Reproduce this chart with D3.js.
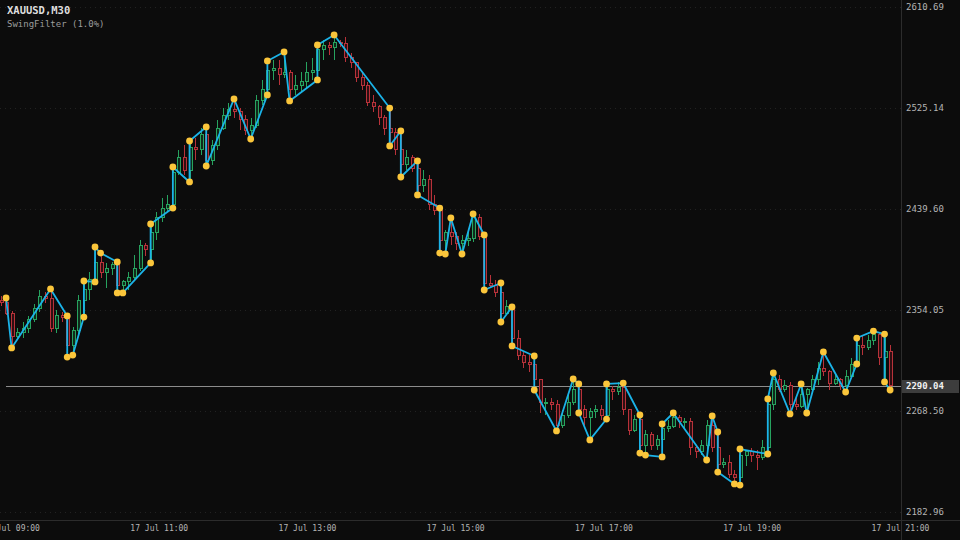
<!DOCTYPE html>
<html><head><meta charset="utf-8">
<script src="https://cdn.jsdelivr.net/npm/d3@7"></script>
<style>html,body{margin:0;padding:0;background:#0c0c0c;overflow:hidden}</style>
</head><body><svg id="c" width="960" height="540"></svg>
<script>
const opens=[2362.5,2360.0,2351.5,2332.0,2335.4,2338.8,2345.6,2355.7,2365.9,2364.2,
2338.8,2349.8,2347.3,2324.4,2337.1,2362.5,2371.0,2379.5,2394.7,2385.4,
2389.6,2392.2,2375.2,2377.8,2381.2,2389.6,2409.1,2404.9,2420.1,2432.0,
2440.4,2443.0,2470.9,2482.8,2472.6,2491.3,2489.6,2502.3,2481.1,2493.8,
2508.2,2519.2,2523.5,2521.8,2515.0,2506.5,2510.7,2531.9,2540.4,2557.3,
2559.0,2553.1,2555.6,2540.4,2544.6,2547.2,2554.8,2557.3,2574.3,2578.5,
2576.0,2580.2,2579.4,2567.5,2563.3,2551.4,2544.6,2530.2,2526.0,2516.7,
2508.2,2504.8,2489.6,2476.9,2482.8,2474.3,2459.9,2464.2,2443.0,2438.0,
2413.3,2420.1,2415.9,2410.8,2413.3,2415.0,2432.0,2416.7,2376.9,2375.2,
2368.5,2351.5,2356.6,2330.3,2315.9,2310.0,2307.5,2294.8,2275.3,2276.1,
2273.6,2256.6,2265.1,2276.1,2286.3,2269.4,2262.6,2267.7,2269.4,2264.3,
2286.3,2284.6,2288.0,2269.4,2252.4,2260.9,2239.7,2248.2,2239.7,2244.0,
2254.1,2255.8,2262.6,2259.2,2260.0,2237.2,2233.8,2238.9,2256.6,2237.2,
2222.8,2225.3,2214.3,2211.8,2231.2,2233.8,2231.2,2228.7,2238.0,2273.6,
2294.8,2286.3,2290.5,2273.6,2272.7,2282.1,2286.3,2294.8,2304.9,2301.6,
2292.2,2295.6,2289.7,2298.1,2308.3,2324.4,2321.9,2328.6,2332.9,2313.4,
2319.3];
const closes=[2360.0,2351.5,2332.0,2335.4,2338.8,2345.6,2355.7,2365.9,2364.2,2338.8,
2349.8,2347.3,2324.4,2337.1,2362.5,2371.0,2379.5,2394.7,2385.4,2389.6,
2392.2,2375.2,2377.8,2381.2,2389.6,2409.1,2404.9,2420.1,2432.0,2440.4,
2443.0,2470.9,2482.8,2472.6,2491.3,2489.6,2502.3,2481.1,2493.8,2508.2,
2519.2,2523.5,2521.8,2515.0,2506.5,2510.7,2531.9,2540.4,2557.3,2559.0,
2553.1,2555.6,2540.4,2544.6,2547.2,2554.8,2557.3,2574.3,2578.5,2576.0,
2580.2,2579.4,2567.5,2563.3,2551.4,2544.6,2530.2,2526.0,2516.7,2508.2,
2504.8,2489.6,2476.9,2482.8,2474.3,2459.9,2464.2,2443.0,2438.0,2413.3,
2420.1,2415.9,2410.8,2413.3,2415.0,2432.0,2416.7,2376.9,2375.2,2368.5,
2351.5,2356.6,2330.3,2315.9,2310.0,2307.5,2294.8,2275.3,2276.1,2273.6,
2256.6,2265.1,2276.1,2286.3,2269.4,2262.6,2267.7,2269.4,2264.3,2286.3,
2284.6,2288.0,2269.4,2252.4,2260.9,2239.7,2248.2,2239.7,2244.0,2254.1,
2255.8,2262.6,2259.2,2260.0,2237.2,2233.8,2238.9,2256.6,2237.2,2222.8,
2225.3,2214.3,2211.8,2231.2,2233.8,2231.2,2228.7,2238.0,2273.6,2294.8,
2286.3,2290.5,2273.6,2272.7,2282.1,2286.3,2294.8,2304.9,2301.6,2292.2,
2295.6,2289.7,2298.1,2308.3,2324.4,2321.9,2328.6,2332.9,2313.4,2319.3,
2290.04];
const highs=[2365.9,2364.2,2353.2,2338.8,2343.9,2349.0,2359.2,2371.0,2369.3,2371.9,
2354.1,2352.4,2349.0,2339.7,2366.7,2378.6,2386.2,2407.4,2402.3,2393.9,
2394.7,2394.7,2379.5,2386.2,2400.6,2413.3,2411.0,2426.9,2437.1,2448.9,
2451.5,2475.2,2489.6,2493.8,2497.2,2499.7,2508.2,2509.1,2498.0,2515.0,
2525.1,2529.4,2532.8,2525.1,2519.2,2516.7,2536.2,2548.9,2565.0,2565.8,
2565.8,2572.6,2557.0,2553.1,2555.6,2564.1,2567.5,2578.5,2582.7,2581.0,
2587.0,2582.7,2585.3,2571.7,2564.1,2555.6,2547.2,2536.2,2527.7,2519.2,
2525.1,2508.2,2505.7,2489.6,2485.3,2480.3,2472.6,2468.4,2451.5,2440.4,
2421.8,2432.0,2420.1,2417.6,2421.8,2435.4,2435.4,2417.6,2383.7,2379.5,
2376.9,2362.5,2356.6,2337.1,2318.5,2315.9,2315.1,2294.8,2279.5,2279.5,
2277.8,2269.4,2282.1,2295.6,2291.4,2273.6,2271.1,2273.6,2273.6,2291.4,
2289.7,2293.1,2292.2,2269.4,2265.1,2265.1,2252.4,2250.7,2248.2,2257.5,
2260.9,2266.8,2265.1,2262.6,2262.6,2239.7,2244.0,2260.9,2264.3,2250.7,
2228.7,2231.2,2218.5,2236.3,2235.5,2237.2,2235.5,2244.0,2278.7,2300.7,
2299.0,2294.8,2293.1,2282.1,2291.4,2288.0,2299.0,2310.0,2318.5,2303.2,
2299.0,2296.5,2303.2,2313.4,2330.3,2332.0,2332.9,2336.2,2334.6,2333.7,
2324.4];
const lows=[2357.5,2349.8,2321.9,2330.3,2330.3,2334.6,2343.9,2352.4,2360.0,2335.4,
2334.6,2343.9,2314.2,2315.9,2332.9,2348.1,2362.5,2377.8,2381.2,2372.7,
2383.7,2368.5,2368.5,2371.0,2379.5,2387.0,2399.8,2393.9,2413.3,2428.6,
2437.1,2440.4,2468.4,2468.4,2462.5,2481.1,2485.3,2476.0,2476.9,2489.6,
2506.5,2515.0,2516.7,2506.5,2502.3,2498.9,2508.2,2527.7,2536.2,2548.9,
2544.6,2550.6,2531.1,2536.2,2538.7,2542.1,2548.9,2548.9,2565.8,2570.0,
2565.8,2576.8,2564.1,2559.0,2547.2,2540.4,2526.8,2521.8,2510.7,2502.3,
2493.0,2485.3,2466.7,2472.6,2470.9,2451.5,2454.0,2438.7,2434.5,2402.3,
2401.5,2409.1,2404.9,2401.5,2408.2,2411.6,2413.3,2371.0,2373.5,2365.1,
2343.9,2349.8,2323.6,2311.7,2304.9,2301.6,2286.3,2266.8,2265.1,2269.4,
2251.6,2254.1,2262.6,2273.6,2266.8,2256.6,2244.0,2262.6,2260.9,2261.7,
2277.8,2282.1,2265.1,2248.2,2250.7,2232.9,2231.2,2235.5,2235.5,2229.6,
2250.7,2254.1,2254.1,2254.1,2231.2,2228.7,2231.2,2227.0,2233.8,2216.8,
2220.2,2211.8,2206.7,2205.8,2221.9,2225.3,2218.5,2227.0,2232.1,2269.4,
2284.6,2284.6,2266.0,2269.4,2271.1,2266.8,2284.6,2290.5,2298.1,2286.3,
2290.5,2286.3,2284.6,2296.5,2308.3,2315.9,2320.2,2324.4,2307.5,2293.1,
2286.3];
const swingIdx=[1,2,9,12,12,13,15,15,17,17,18,21,21,22,27,27,31,31,34,34,37,37,42,45,48,48,51,52,57,57,60,70,70,72,72,75,75,79,79,80,81,83,85,87,87,90,90,92,92,96,96,100,103,104,104,106,109,109,112,115,115,116,119,119,121,127,128,129,129,132,133,133,138,138,139,142,144,145,148,152,154,154,157,159,159,160];
const swingPrice=[2364.2,2321.9,2371.9,2349.0,2314.2,2315.9,2348.1,2378.6,2377.8,2407.4,2402.3,2394.7,2368.5,2368.5,2393.9,2426.9,2440.4,2475.2,2462.5,2497.2,2509.1,2476.0,2532.8,2498.9,2536.2,2565.0,2572.6,2531.1,2548.9,2578.5,2587.0,2525.1,2493.0,2505.7,2466.7,2480.3,2451.5,2440.4,2402.3,2401.5,2432.0,2401.5,2435.4,2417.6,2371.0,2376.9,2343.9,2356.6,2323.6,2315.1,2286.3,2251.6,2295.6,2291.4,2266.8,2244.0,2261.7,2291.4,2292.2,2265.1,2232.9,2231.2,2229.6,2257.5,2266.8,2227.0,2264.3,2250.7,2216.8,2206.7,2205.8,2236.3,2232.1,2278.7,2300.7,2266.0,2291.4,2266.8,2318.5,2284.6,2308.3,2330.3,2336.2,2333.7,2293.1,2286.3];
const yTicks=[2610.69,2525.14,2439.60,2354.05,2268.50,2182.96];
const timeTicks=["09:00","11:00","13:00","15:00","17:00","19:00","21:00"];
const dayLabel="17 Jul";
const lastPrice=2290.04;
const title="XAUUSD,M30", subtitle="SwingFilter (1.0%)";

const W=960,H=540,plotR=901,plotB=520;
const UP="#27a35f", DN="#b8323a", LINE="#1bb3e8", DOT="#fbc63b";
const svg=d3.select("#c");
svg.append("rect").attr("width",W).attr("height",H).attr("fill","#0c0c0c");

const x=d3.scaleLinear().domain([0,closes.length-1]).range([0.5,890.1]);
const y=d3.scaleLinear().domain([2182.96,2610.69]).range([512,7]);
const parse=d3.timeParse("%H:%M");
const t=d3.scaleTime().domain([parse(timeTicks[0]),parse(timeTicks[timeTicks.length-1])]).range([10.5,900]);

// dotted grid
svg.append("g").selectAll("line").data(yTicks).join("line")
  .attr("x1",0).attr("x2",plotR).attr("y1",d=>Math.round(y(d))+0.5).attr("y2",d=>Math.round(y(d))+0.5)
  .attr("stroke","#222222").attr("stroke-dasharray","1,4");

// last price line
svg.append("line").attr("x1",6).attr("x2",plotR).attr("y1",Math.round(y(lastPrice))+0.5).attr("y2",Math.round(y(lastPrice))+0.5)
  .attr("stroke","#8c8c8c").attr("stroke-width",1);

// candles
const idx=d3.range(closes.length);
const cg=svg.append("g").attr("shape-rendering","crispEdges");
cg.selectAll("line").data(idx).join("line")
  .attr("x1",i=>Math.round(x(i))+0.5).attr("x2",i=>Math.round(x(i))+0.5)
  .attr("y1",i=>y(highs[i])).attr("y2",i=>y(lows[i]))
  .attr("stroke",i=>closes[i]>=opens[i]?UP:DN);
cg.selectAll("rect").data(idx).join("rect")
  .attr("x",i=>Math.round(x(i))-1+0.5).attr("width",3)
  .attr("y",i=>y(Math.max(opens[i],closes[i])))
  .attr("height",i=>Math.max(1,Math.abs(y(opens[i])-y(closes[i]))))
  .attr("fill",i=>closes[i]>=opens[i]?"#0f2a1b":"#2e0f12")
  .attr("stroke",i=>closes[i]>=opens[i]?UP:DN);

// swing zigzag
const pts=swingIdx.map((d,k)=>[x(d),y(swingPrice[k])]);
svg.append("path").attr("d",d3.line()(pts)).attr("fill","none")
  .attr("stroke",LINE).attr("stroke-width",1.8).attr("stroke-linejoin","round");
svg.append("g").selectAll("circle").data(pts).join("circle")
  .attr("cx",d=>d[0]).attr("cy",d=>d[1]).attr("r",3.4).attr("fill",DOT);

// axes frame
svg.append("line").attr("x1",plotR+0.5).attr("x2",plotR+0.5).attr("y1",0).attr("y2",H).attr("stroke","#2c2c2c");
svg.append("line").attr("x1",0).attr("x2",W).attr("y1",plotB+0.5).attr("y2",plotB+0.5).attr("stroke","#2c2c2c");

const font="'DejaVu Sans Mono', 'Liberation Mono', monospace";
const yAxis=svg.append("g").attr("transform",`translate(${plotR},0)`)
  .call(d3.axisRight(y).tickValues(yTicks).tickFormat(d3.format(".2f")).tickSize(0).tickPadding(5));
yAxis.select(".domain").remove();
yAxis.selectAll("text").attr("fill","#b4b4b4").style("font-family",font).style("font-size","9px");

const xAxis=svg.append("g").attr("transform",`translate(0,${plotB})`)
  .call(d3.axisBottom(t).tickValues(timeTicks.map(parse)).tickFormat(d=>dayLabel+" "+d3.timeFormat("%H:%M")(d)).tickSize(0).tickPadding(5));
xAxis.select(".domain").remove();
xAxis.selectAll("text").attr("fill","#b4b4b4").style("font-family",font).style("font-size","8px");

// last price tag
const ly=y(lastPrice);
svg.append("rect").attr("x",plotR+1).attr("y",Math.round(ly)-6).attr("width",57).attr("height",13).attr("fill","#3d3d3d");
svg.append("text").attr("x",906).attr("y",ly).attr("dy","0.35em").text(d3.format(".2f")(lastPrice))
  .attr("fill","#f2f2f2").style("font-family",font).style("font-size","9px").style("font-weight","bold");

// title
svg.append("text").attr("x",7).attr("y",14).text(title).attr("fill","#dedede")
  .style("font-family",font).style("font-size","10.5px").style("font-weight","bold");
svg.append("text").attr("x",7).attr("y",27).text(subtitle).attr("fill","#9c9c9c")
  .style("font-family",font).style("font-size","9px");
</script></body></html>
